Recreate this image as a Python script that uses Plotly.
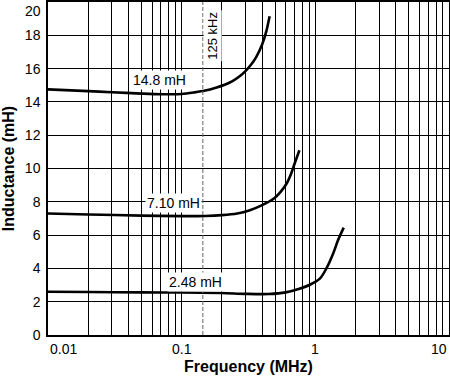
import math
import plotly.graph_objects as go

# ---- data ----
freq_14_8 = [0.01, 0.02, 0.03, 0.05, 0.07, 0.1, 0.125, 0.15, 0.18, 0.21, 0.24, 0.27, 0.3, 0.33, 0.36, 0.4, 0.43, 0.455]
ind_14_8 = [14.75, 14.65, 14.58, 14.5, 14.46, 14.47, 14.57, 14.68, 14.85, 15.03, 15.25, 15.52, 15.85, 16.23, 16.68, 17.45, 18.25, 19.15]

freq_7_10 = [0.01, 0.02, 0.05, 0.1, 0.15, 0.2, 0.26, 0.32, 0.4, 0.49, 0.55, 0.61, 0.66, 0.7, 0.76]
ind_7_10 = [7.3, 7.24, 7.17, 7.14, 7.15, 7.2, 7.3, 7.48, 7.8, 8.2, 8.6, 9.1, 9.7, 10.3, 11.1]

freq_2_48 = [0.01, 0.02, 0.05, 0.1, 0.2, 0.3, 0.45, 0.6, 0.76, 0.91, 1.09, 1.21, 1.36, 1.48, 1.63]
ind_2_48 = [2.6, 2.58, 2.56, 2.55, 2.52, 2.47, 2.46, 2.56, 2.78, 3.02, 3.42, 4.0, 4.9, 5.7, 6.45]

curve_labels = ["14.8 mH", "7.10 mH", "2.48 mH"]
curve_label_pos = [(0.0684, 15.3), (0.087, 7.92), (0.127, 3.18)]

marker_freq = 0.144
marker_label = "125 kHz"
marker_label_pos = (0.17, 18.0)

x_tick_vals = [0.01, 0.1, 1, 10]
x_tick_text = ["0.01", "0.1", "1", "10"]
x_tick_anchor = ["left", "center", "center", "right"]
x_grid_vals = [m * d for d in (0.01, 0.1, 1) for m in range(1, 10)] + [10]
y_tick_vals = list(range(0, 21, 2))
y_tick_text = [str(v) for v in y_tick_vals]

FONT = "Liberation Sans, Arial, Helvetica, sans-serif"

fig = go.Figure()
for fx, fy in [(freq_14_8, ind_14_8), (freq_7_10, ind_7_10), (freq_2_48, ind_2_48)]:
    fig.add_trace(go.Scatter(x=fx, y=fy, mode="lines",
                             line=dict(color="black", width=2.6, shape="spline", smoothing=0.8),
                             showlegend=False, hoverinfo="skip"))

fig.add_vline(x=marker_freq, line=dict(color="#666666", width=1, dash="4px,2px"), layer="above")

for txt, (ax, ay) in zip(curve_labels, curve_label_pos):
    fig.add_annotation(x=math.log10(ax), y=ay, xref="x", yref="y", text=txt, showarrow=False,
                       font=dict(family=FONT, size=14, color="black"),
                       bgcolor="white", borderpad=1)

fig.add_annotation(x=math.log10(marker_label_pos[0]), y=marker_label_pos[1], xref="x", yref="y",
                   text=marker_label, showarrow=False, textangle=-90,
                   font=dict(family=FONT, size=13, color="black"),
                   bgcolor="white", borderpad=1)

for v, t, a in zip(x_tick_vals, x_tick_text, x_tick_anchor):
    fig.add_annotation(x=math.log10(v), y=0, xref="x", yref="paper", text=t, showarrow=False,
                       xanchor=a, yanchor="top", yshift=-4,
                       font=dict(family=FONT, size=14, color="black"))

# top y label kept inside the figure
fig.add_annotation(x=0, y=y_tick_vals[-1], xref="paper", yref="y", text=y_tick_text[-1],
                   showarrow=False, xanchor="right", yanchor="top", xshift=-5, yshift=1,
                   font=dict(family=FONT, size=14, color="black"))

fig.update_xaxes(type="log", range=[-2, 1], tickvals=x_grid_vals, showticklabels=False,
                 showgrid=True, gridcolor="black", gridwidth=1,
                 showline=True, linecolor="black", linewidth=1.5, mirror=True,
                 zeroline=False, ticks="", automargin=False,
                 title=dict(text="<b>Frequency (MHz)</b>", standoff=25,
                            font=dict(family=FONT, size=16, color="black")))
fig.update_yaxes(range=[0, 20], tickvals=y_tick_vals,
                 ticktext=y_tick_text[:-1] + [""],
                 showgrid=True, gridcolor="black", gridwidth=1,
                 showline=True, linecolor="black", linewidth=1.5, mirror=True,
                 zeroline=False, ticks="", ticklabelstandoff=3, automargin=False,
                 tickfont=dict(family=FONT, size=14, color="black"),
                 title=dict(text="<b>Inductance (mH)</b>", standoff=8,
                            font=dict(family=FONT, size=16, color="black")))

fig.update_layout(width=450, height=376, margin=dict(l=48, r=1, t=2, b=41),
                  plot_bgcolor="white", paper_bgcolor="white",
                  font=dict(family=FONT, color="black"))

fig.write_html("out.html", config={"responsive": False, "displayModeBar": False},
               post_script="document.body.style.margin='0px';document.body.style.overflow='hidden';")
